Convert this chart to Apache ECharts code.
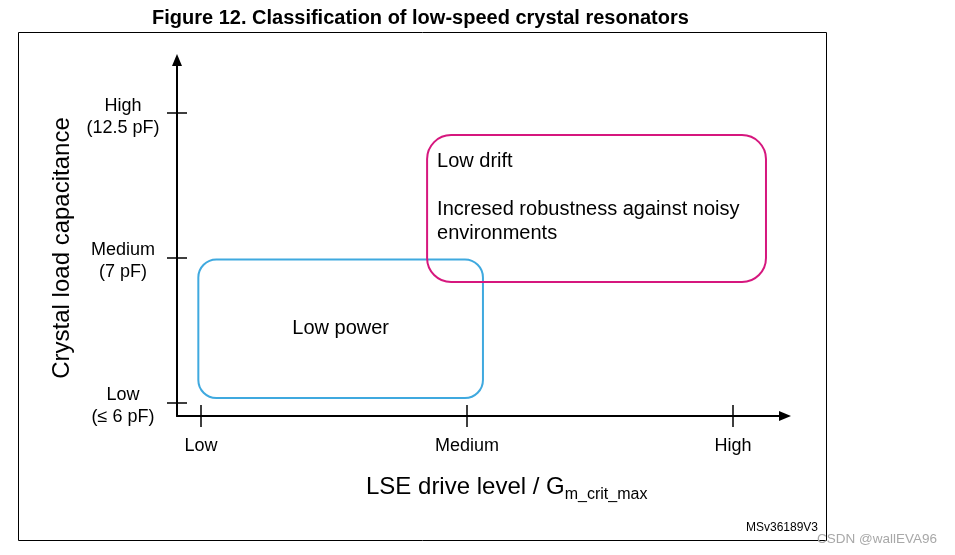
<!DOCTYPE html>
<html><head><meta charset="utf-8">
<script src="https://cdn.jsdelivr.net/npm/echarts@6/dist/echarts.min.js"></script>
<style>html,body{margin:0;padding:0;background:#fff}#c{width:955px;height:555px}</style>
</head><body><div id="c"></div>
<script>
// ---- data ----
const titleText = 'Figure 12. Classification of low-speed crystal resonators';
const xTickValues = [0, 1, 2];
const xTickLabels = ['Low', 'Medium', 'High'];
const yTickValues = [0, 1, 2];
const yTickLabels = ['Low\n(≤ 6 pF)', 'Medium\n(7 pF)', 'High\n(12.5 pF)'];
const xAxisTitle = 'LSE drive level / G';
const xAxisTitleSub = 'm_crit_max';
const yAxisTitle = 'Crystal load capacitance';
const boxTexts = ['Low power', 'Low drift\n\nIncresed robustness against noisy\nenvironments'];
const boxX0 = [-0.01, 0.85];
const boxX1 = [1.06, 2.124];
const boxY0 = [0.034, 0.834];
const boxY1 = [0.99, 1.848];
const footerId = 'MSv36189V3';
const watermark = 'CSDN @wallEVA96';

// ---- styles ----
const FF = '"Liberation Sans", Arial, sans-serif';
const boxStyles = [
  { color: '#3fa9df', r: 18, centered: true },
  { color: '#d6177e', r: 24, centered: false }
];
const X_MIN = -0.0902, X_MAX = 2.1955, Y_MIN = -0.0897, Y_MAX = 2.366;

const chart = echarts.init(document.getElementById('c'), null, { renderer: 'canvas' });

const baseX = {
  type: 'value', min: X_MIN, max: X_MAX, position: 'bottom',
  splitLine: { show: false }
};
const baseY = {
  type: 'value', min: Y_MIN, max: Y_MAX, position: 'left',
  splitLine: { show: false }
};

function yLabelRich(v) {
  const lines = yTickLabels[Math.round(v)].split('\n');
  return '{s|\u200b}\n' + lines.map(l => '{t|' + l + '}').join('\n');
}

const option = {
  animation: false,
  backgroundColor: '#fff',
  title: {
    text: titleText, left: 152, top: 8, padding: 0,
    textStyle: { fontFamily: FF, fontSize: 20, fontWeight: 'bold', color: '#000' }
  },
  grid: { left: 177, right: 170, top: 60, bottom: 139, containLabel: false },
  xAxis: [
    Object.assign({}, baseX, {
      axisLine: { show: true, onZero: false, symbol: ['none', 'triangle'], symbolSize: [10, 12],
        lineStyle: { color: '#000', width: 2 } },
      axisTick: { show: true, inside: false, length: 11, customValues: xTickValues,
        lineStyle: { color: '#000', width: 1.5 } },
      axisLabel: { show: true, customValues: xTickValues, margin: 21,
        formatter: v => xTickLabels[Math.round(v)],
        fontFamily: FF, fontSize: 18, color: '#000' }
    }),
    Object.assign({}, baseX, {
      axisLine: { show: false, onZero: false },
      axisTick: { show: true, inside: true, length: 11, customValues: xTickValues,
        lineStyle: { color: '#000', width: 1.5 } },
      axisLabel: { show: false }
    })
  ],
  yAxis: [
    Object.assign({}, baseY, {
      axisLine: { show: true, onZero: false, symbol: ['none', 'triangle'], symbolSize: [10, 12],
        lineStyle: { color: '#000', width: 2 } },
      axisTick: { show: true, inside: false, length: 10, customValues: yTickValues,
        lineStyle: { color: '#000', width: 1.5 } },
      axisLabel: { show: true, customValues: yTickValues, margin: 54, align: 'center',
        verticalAlign: 'middle',
        formatter: yLabelRich,
        fontFamily: FF, fontSize: 18, color: '#000',
        rich: {
          s: { fontFamily: FF, fontSize: 4, lineHeight: 7, color: '#000', align: 'center' },
          t: { fontFamily: FF, fontSize: 18, lineHeight: 22, color: '#000', align: 'center' }
        } }
    }),
    Object.assign({}, baseY, {
      axisLine: { show: false, onZero: false },
      axisTick: { show: true, inside: true, length: 10, customValues: yTickValues,
        lineStyle: { color: '#000', width: 1.5 } },
      axisLabel: { show: false }
    })
  ],
  series: [{
    type: 'custom',
    xAxisIndex: 0, yAxisIndex: 0,
    clip: false,
    data: boxTexts.map((t, i) => [boxX0[i], boxX1[i], boxY0[i], boxY1[i]]),
    renderItem: function (params, api) {
      const i = params.dataIndex;
      const tl = api.coord([api.value(0), api.value(3)]);
      const br = api.coord([api.value(1), api.value(2)]);
      const w = br[0] - tl[0], h = br[1] - tl[1];
      const st = boxStyles[i];
      const children = [{
        type: 'rect',
        shape: { x: tl[0], y: tl[1], width: w, height: h, r: st.r },
        style: { fill: 'none', stroke: st.color, lineWidth: 2 }
      }];
      if (st.centered) {
        children.push({ type: 'text', x: tl[0] + w / 2, y: tl[1] + h / 2,
          style: { text: boxTexts[i], align: 'center', verticalAlign: 'middle',
            fontSize: 20, fontFamily: FF, fill: '#000' } });
      } else {
        children.push({ type: 'text', x: tl[0] + 10, y: tl[1] + 14,
          style: { text: boxTexts[i], align: 'left', verticalAlign: 'top',
            fontSize: 20, lineHeight: 24, fontFamily: FF, fill: '#000' } });
      }
      return { type: 'group', children: children };
    }
  }],
  graphic: [
    { type: 'rect', shape: { x: 18.5, y: 32.5, width: 808, height: 508 },
      style: { fill: 'none', stroke: '#000', lineWidth: 1 }, z: -1 },
    { type: 'text', x: 62, y: 248, rotation: Math.PI / 2,
      style: { text: yAxisTitle, align: 'center', verticalAlign: 'middle',
        fontSize: 24, fontFamily: FF, fill: '#000' } },
    { type: 'text', x: 366, y: 475,
      style: { text: '{a|' + xAxisTitle + '}{b|' + xAxisTitleSub + '}', align: 'left', verticalAlign: 'top',
        fontFamily: FF, fill: '#000',
        rich: {
          a: { fontSize: 24, lineHeight: 28, verticalAlign: 'top', fontFamily: FF, fill: '#000' },
          b: { fontSize: 16, lineHeight: 19, verticalAlign: 'bottom', fontFamily: FF, fill: '#000' }
        } } },
    { type: 'text', x: 818, y: 528,
      style: { text: footerId, align: 'right', verticalAlign: 'middle',
        fontSize: 12, fontFamily: FF, fill: '#000' } },
    { type: 'text', x: 817, y: 539,
      style: { text: watermark, align: 'left', verticalAlign: 'middle',
        fontSize: 13.5, fontFamily: FF, fill: '#a8a8a8' } }
  ]
};
chart.setOption(option);
</script>
</body></html>
